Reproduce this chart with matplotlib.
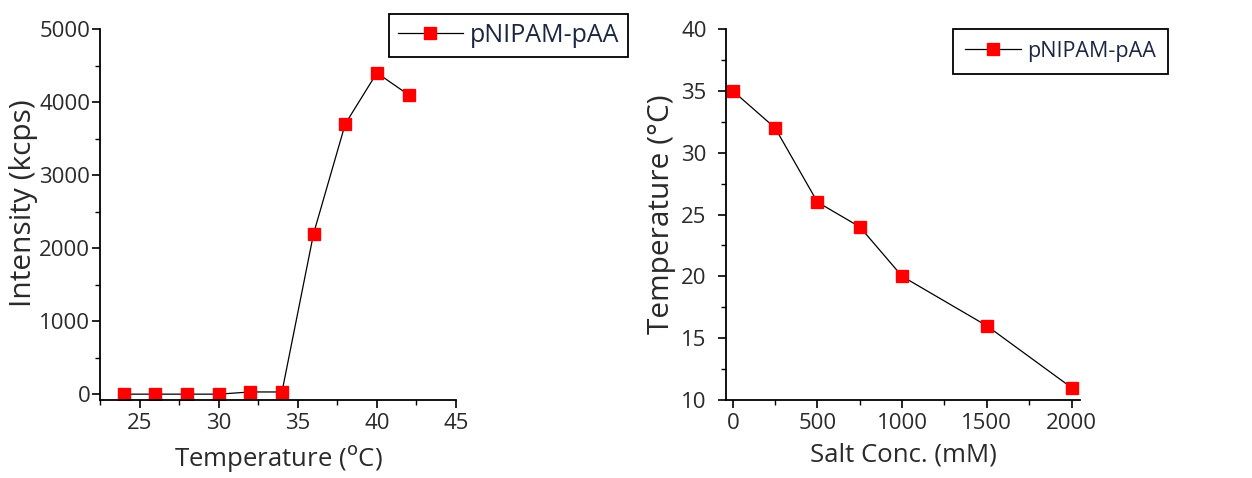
#!/usr/bin/env python3
import matplotlib as mpl
mpl.use('Agg')
import matplotlib.pyplot as plt
from matplotlib.ticker import MultipleLocator

# +
# data
# -
temp_c = [24, 26, 28, 30, 32, 34, 36, 38, 40, 42]
intensity_kcps = [0, 0, 0, 0, 30, 30, 2200, 3700, 4400, 4100]

salt_mm = [0, 250, 500, 750, 1000, 1500, 2000]
lcst_c = [35, 32, 26, 24, 20, 16, 11]

series_label = 'pNIPAM-pAA'

plt.rcParams['font.family'] = ['Open Sans', 'DejaVu Sans']
TXT = '#2a2a2a'

fig = plt.figure(figsize=(12.52, 4.78), dpi=100)
ax1 = fig.add_axes([0.0799, 0.1632, 0.2843, 0.776])
ax2 = fig.add_axes([0.5799, 0.1632, 0.2827, 0.776])

line_kw = dict(color='black', lw=0.9, marker='s', ms=8,
               markerfacecolor='red', markeredgecolor='red')


def style(ax, ypad):
    for s in ('top', 'right'):
        ax.spines[s].set_visible(False)
    for s in ('left', 'bottom'):
        ax.spines[s].set_linewidth(1.3)
    ax.tick_params(which='major', direction='out', length=6, width=1.2,
                   labelsize=16, labelcolor=TXT)
    ax.tick_params(axis='y', which='major', pad=ypad)
    ax.tick_params(which='minor', direction='out', length=3.5, width=1.0)


def legend(ax, anchor, fs, bpad):
    leg = ax.legend(loc='upper left', bbox_to_anchor=anchor,
                    bbox_transform=fig.transFigure, borderaxespad=0,
                    fontsize=fs, handlelength=2.6, handletextpad=0.3,
                    fancybox=False, framealpha=1, borderpad=bpad,
                    labelcolor='#1c2640')
    leg.get_frame().set_edgecolor('black')
    leg.get_frame().set_linewidth(1.3)


# left panel
ax1.plot(temp_c, intensity_kcps, label=series_label, **line_kw)
ax1.set_xlim(22.5, 45)
ax1.set_ylim(-80, 5000)
ax1.xaxis.set_major_locator(MultipleLocator(5))
ax1.xaxis.set_minor_locator(MultipleLocator(2.5))
ax1.yaxis.set_major_locator(MultipleLocator(1000))
ax1.yaxis.set_minor_locator(MultipleLocator(500))
style(ax1, 1)
ax1.set_xlabel('Temperature ($^{\\rm o}$C)', fontsize=18.5, color=TXT, labelpad=6)
ax1.set_ylabel('Intensity (kcps)', fontsize=21.5, color=TXT)
ax1.yaxis.set_label_coords(-0.175, 0.53)
legend(ax1, (0.3107, 0.9707), 18, 0.35)

# right panel
ax2.plot(salt_mm, lcst_c, label=series_label, **line_kw)
ax2.set_xlim(-40, 2050)
ax2.set_ylim(10, 40)
ax2.xaxis.set_major_locator(MultipleLocator(500))
ax2.xaxis.set_minor_locator(MultipleLocator(250))
ax2.yaxis.set_major_locator(MultipleLocator(5))
ax2.yaxis.set_minor_locator(MultipleLocator(2.5))
style(ax2, 8)
ax2.set_xlabel('Salt Conc. (mM)', fontsize=18.5, color=TXT, labelpad=6)
ax2.set_ylabel('Temperature (°C)', fontsize=21.5, color=TXT, labelpad=4)
legend(ax2, (0.7612, 0.9393), 15.5, 0.55)

fig.savefig('out.png', dpi=100)
